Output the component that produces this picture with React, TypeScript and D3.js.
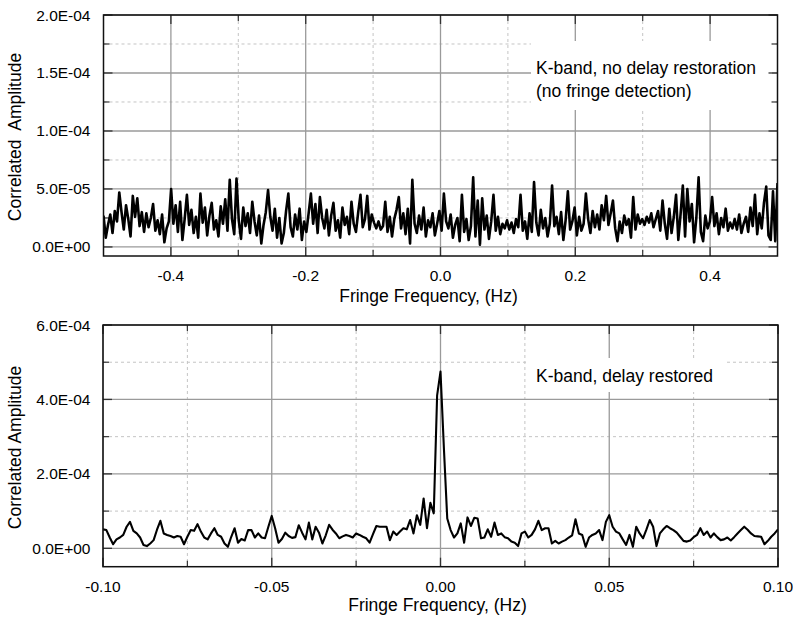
import React from 'react';
import * as d3 from 'd3';

// ---------- DATA ----------
// Top panel: K-band, no delay restoration. Fringe frequency -0.5..0.5 Hz, amplitude in units of 1e-5
const topFreqDomain = [-0.5, 0.5];
const topAmp = [
  2.7, 0.8, 1.9, 2.8, 1.2, 3.1, 2.2, 4.7, 3.0, 1.5, 3.6, 2.4, 0.9, 4.4, 2.6, 4.2, 1.8, 3.0, 1.3, 2.9,
  1.7, 2.5, 3.7, 1.4, 2.3, 1.1, 2.8, 0.4, 1.6, 2.2, 5.0, 2.0, 3.6, 1.3, 3.9, 0.6, 2.4, 4.5, 1.9, 3.2,
  1.2, 2.6, 0.8, 4.6, 2.1, 3.4, 1.0, 2.7, 3.8, 1.5, 2.3, 0.9, 3.5, 2.0, 4.1, 1.4, 5.8, 2.4, 1.1, 5.9,
  2.3, 0.7, 3.4, 1.8, 2.9, 1.2, 3.9, 2.2, 1.0, 2.7, 0.3, 1.9, 3.0, 4.9, 2.6, 1.4, 3.3, 0.8, 2.5, 0.3,
  1.2, 3.1, 4.6, 1.7, 0.9, 2.8, 1.5, 3.3, 0.6, 2.2, 1.3, 2.9, 4.6, 2.0, 3.7, 1.2, 4.3, 2.5, 1.6, 3.2,
  1.0, 2.7, 3.8, 1.4, 2.3, 0.8, 3.4, 1.9, 2.6, 1.1, 3.9, 2.0, 1.3, 3.0, 4.5, 1.7, 2.4, 4.4, 1.5, 2.8,
  2.1, 1.6, 2.2, 1.5, 1.8, 3.9, 1.3, 2.6, 0.9, 2.4, 3.2, 4.3, 1.6, 2.9, 1.1, 3.3, 0.3, 5.8, 2.0, 1.2,
  2.7, 1.5, 3.4, 0.9, 2.3, 1.7, 2.9, 1.0, 2.0, 3.1, 1.4, 4.6, 2.2, 1.6, 2.8, 0.8, 1.9, 2.5, 0.5, 4.5,
  1.3, 2.4, 0.6, 1.8, 6.0, 0.9, 4.0, 0.2, 4.2, 1.5, 2.7, 0.7, 2.2, 4.5, 1.4, 2.6, 1.1, 2.0, 1.6, 2.3,
  1.5, 2.1, 1.2, 2.4, 1.7, 4.5, 1.4, 2.2, 0.7, 2.9, 1.3, 5.6, 2.1, 1.0, 3.2, 1.6, 2.5, 0.9, 2.0, 5.3,
  1.8, 2.6, 1.1, 3.0, 0.6, 2.3, 4.8, 1.5, 2.2, 3.4, 1.0, 2.6, 1.4, 2.0, 4.6, 2.4, 1.2, 3.1, 1.7, 2.8,
  1.5, 3.6, 2.3, 4.4, 1.9, 2.9, 4.0, 1.6, 0.5, 2.2, 1.2, 2.7, 1.9, 2.4, 0.8, 4.3, 1.5, 2.8, 2.0, 2.4,
  1.9, 2.6, 2.1, 2.9, 1.7, 2.4, 3.1, 1.4, 4.0, 2.0, 0.7, 3.3, 1.2, 2.6, 4.5, 0.6, 2.8, 5.3, 0.9, 5.0,
  2.2, 3.7, 0.4, 2.5, 6.0, 1.3, 0.5, 2.7, 1.6, 2.2, 4.3, 1.8, 2.9, 1.1, 2.5, 1.7, 3.3, 1.4, 2.1, 1.6,
  2.4, 1.5, 2.8, 1.2, 2.0, 2.6, 1.3, 3.4, 1.8, 4.5, 1.1, 2.9, 1.6, 3.8, 5.2, 1.0, 0.6, 4.8, 0.5, 5.5,
];
const topUnit = 1e-5;

// Bottom panel: K-band, delay restored. Fringe frequency -0.1..0.1 Hz, amplitude in units of 1e-4
const bottomFreqDomain = [-0.1, 0.1];
const bottomAmp = [
  0.51, 0.49, 0.29, 0.11, 0.24, 0.29, 0.36, 0.58, 0.71, 0.47,
  0.40, 0.29, 0.09, 0.06, 0.13, 0.22, 0.50, 0.74, 0.40, 0.36,
  0.33, 0.29, 0.33, 0.31, 0.11, 0.31, 0.49, 0.47, 0.65, 0.45,
  0.29, 0.24, 0.40, 0.54, 0.36, 0.31, 0.13, 0.04, 0.31, 0.54,
  0.15, 0.25, 0.21, 0.49, 0.49, 0.29, 0.40, 0.29, 0.27, 0.58,
  0.87, 0.54, 0.15, 0.25, 0.42, 0.33, 0.28, 0.30, 0.62, 0.42,
  0.24, 0.69, 0.24, 0.58, 0.42, 0.13, 0.35, 0.63, 0.50, 0.40,
  0.27, 0.32, 0.36, 0.33, 0.29, 0.40, 0.36, 0.31, 0.27, 0.15,
  0.38, 0.60, 0.58, 0.58, 0.58, 0.22, 0.45, 0.36, 0.45, 0.54,
  0.51, 0.76, 0.40, 0.89, 0.63, 1.34, 0.54, 1.22, 0.94, 4.11,
  4.75, 2.70, 0.80, 0.49, 0.29, 0.40, 0.67, 0.15, 0.83, 0.60,
  0.82, 0.80, 0.27, 0.29, 0.51, 0.31, 0.69, 0.36, 0.40, 0.30,
  0.27, 0.18, 0.15, 0.06, 0.40, 0.45, 0.29, 0.36, 0.51, 0.74,
  0.49, 0.54, 0.54, 0.13, 0.20, 0.13, 0.18, 0.22, 0.29, 0.35,
  0.78, 0.40, 0.36, 0.04, 0.29, 0.36, 0.40, 0.49, 0.22, 0.71,
  0.89, 0.58, 0.45, 0.40, 0.24, 0.09, 0.36, 0.04, 0.58, 0.40,
  0.27, 0.50, 0.76, 0.58, 0.06, 0.40, 0.51, 0.60, 0.54, 0.49,
  0.42, 0.31, 0.20, 0.18, 0.21, 0.30, 0.36, 0.54, 0.36, 0.45,
  0.29, 0.40, 0.30, 0.22, 0.24, 0.29, 0.21, 0.30, 0.40, 0.49,
  0.58, 0.50, 0.40, 0.33, 0.32, 0.31, 0.11, 0.20, 0.31, 0.40, 0.51,
];
const bottomUnit = 1e-4;

const topXMajor = [-0.4, -0.2, 0.0, 0.2, 0.4];
const topXLabels = ['-0.4', '-0.2', '0.0', '0.2', '0.4'];
const topXMinor = [-0.3, -0.1, 0.1, 0.3];
const topYMajor = [0, 5e-5, 1e-4, 1.5e-4, 2e-4];
const topYLabels = ['0.0E+00', '5.0E-05', '1.0E-04', '1.5E-04', '2.0E-04'];
const topYMinor = [2.5e-5, 7.5e-5, 1.25e-4, 1.75e-4];
const topYDomain = [-7.8e-6, 2e-4];
const topNote = ['K-band, no delay restoration', '(no fringe detection)'];

const botXMajor = [-0.1, -0.05, 0.0, 0.05, 0.1];
const botXLabels = ['-0.10', '-0.05', '0.00', '0.05', '0.10'];
const botXMinor = [-0.075, -0.025, 0.025, 0.075];
const botYMajor = [0, 2e-4, 4e-4, 6e-4];
const botYLabels = ['0.0E+00', '2.0E-04', '4.0E-04', '6.0E-04'];
const botYMinor = [1e-4, 3e-4, 5e-4];
const botYDomain = [-4.94e-5, 6e-4];
const botNote = ['K-band, delay restored'];

const xTitle = 'Fringe Frequency, (Hz)';

const FONT = 'Liberation Sans, Arial, Helvetica, sans-serif';

type PanelProps = {
  id: string;
  left: number; right: number; top: number; bottom: number;
  xDomain: number[]; yDomain: number[];
  amp: number[]; unit: number;
  xMajor: number[]; xLabels: string[]; xMinor: number[];
  yMajor: number[]; yLabels: string[]; yMinor: number[];
  note: string[]; noteX: number; noteY: number; noteDy: number;
  box: { x0: number; x1: number; y0: number; y1: number };
  yTitle: string; yTitleX: number; yTitleY: number;
  xTitleX: number; xTitleY: number; xLabelY: number;
  lineWidth: number;
};

function Panel(p: PanelProps) {
  const x = d3.scaleLinear().domain(p.xDomain).range([p.left, p.right]);
  const y = d3.scaleLinear().domain(p.yDomain).range([p.bottom, p.top]);
  const n = p.amp.length;
  const freq = d3.scaleLinear().domain([0, n - 1]).range(p.xDomain);
  const line = d3.line<number>()
    .x((_, i) => x(freq(i)))
    .y((v) => y(v * p.unit));
  const majorGrid = '#9a9a9a';
  const minorGrid = '#c4c4c4';
  const tickCol = '#333';
  const majLen = 9, minLen = 6;
  return (
    <g>
      <defs>
        <clipPath id={`clip-${p.id}`}>
          <rect x={p.left} y={p.top} width={p.right - p.left} height={p.bottom - p.top} />
        </clipPath>
      </defs>
      {p.xMinor.map((v) => (
        <line key={`xm${v}`} x1={x(v)} x2={x(v)} y1={p.top} y2={p.bottom} stroke={minorGrid} strokeWidth={1} strokeDasharray="3,3" />
      ))}
      {p.yMinor.map((v) => (
        <line key={`ym${v}`} x1={p.left} x2={p.right} y1={y(v)} y2={y(v)} stroke={minorGrid} strokeWidth={1} strokeDasharray="3,3" />
      ))}
      {p.xMajor.map((v) => (
        <line key={`xM${v}`} x1={x(v)} x2={x(v)} y1={p.top} y2={p.bottom} stroke={majorGrid} strokeWidth={1.3} />
      ))}
      {p.yMajor.map((v) => (
        <line key={`yM${v}`} x1={p.left} x2={p.right} y1={y(v)} y2={y(v)} stroke={majorGrid} strokeWidth={1.3} />
      ))}
      <rect x={p.box.x0} y={p.box.y0} width={p.box.x1 - p.box.x0} height={p.box.y1 - p.box.y0} fill="#fff" />
      {p.note.map((t, i) => (
        <text key={t} x={p.noteX} y={p.noteY + i * p.noteDy} fontFamily={FONT} fontSize={17.5} fill="#000">{t}</text>
      ))}
      {p.xMajor.map((v) => (
        <g key={`xt${v}`}>
          <line x1={x(v)} x2={x(v)} y1={p.bottom} y2={p.bottom - majLen} stroke={tickCol} strokeWidth={1.3} />
          <line x1={x(v)} x2={x(v)} y1={p.top} y2={p.top + majLen} stroke={tickCol} strokeWidth={1.3} />
        </g>
      ))}
      {p.xMinor.map((v) => (
        <g key={`xtm${v}`}>
          <line x1={x(v)} x2={x(v)} y1={p.bottom} y2={p.bottom - minLen} stroke={tickCol} strokeWidth={1.2} />
          <line x1={x(v)} x2={x(v)} y1={p.top} y2={p.top + minLen} stroke={tickCol} strokeWidth={1.2} />
        </g>
      ))}
      {p.yMajor.map((v) => (
        <g key={`yt${v}`}>
          <line x1={p.left} x2={p.left + majLen} y1={y(v)} y2={y(v)} stroke={tickCol} strokeWidth={1.3} />
          <line x1={p.right} x2={p.right - majLen} y1={y(v)} y2={y(v)} stroke={tickCol} strokeWidth={1.3} />
        </g>
      ))}
      {p.yMinor.map((v) => (
        <g key={`ytm${v}`}>
          <line x1={p.left} x2={p.left + minLen} y1={y(v)} y2={y(v)} stroke={tickCol} strokeWidth={1.2} />
          <line x1={p.right} x2={p.right - minLen} y1={y(v)} y2={y(v)} stroke={tickCol} strokeWidth={1.2} />
        </g>
      ))}
      <path d={line(p.amp) || ''} fill="none" stroke="#000" strokeWidth={p.lineWidth} strokeLinejoin="round" clipPath={`url(#clip-${p.id})`} />
      <rect x={p.left} y={p.top} width={p.right - p.left} height={p.bottom - p.top} fill="none" stroke="#111" strokeWidth={1.5} />
      {p.xMajor.map((v, i) => (
        <text key={`xl${v}`} x={x(v)} y={p.xLabelY} textAnchor="middle" fontFamily={FONT} fontSize={15.5} fill="#000">{p.xLabels[i]}</text>
      ))}
      {p.yMajor.map((v, i) => (
        <text key={`yl${v}`} x={90.5} y={y(v) + 5.5} textAnchor="end" fontFamily={FONT} fontSize={15.5} fill="#000">{p.yLabels[i]}</text>
      ))}
      <text x={p.xTitleX} y={p.xTitleY} textAnchor="middle" fontFamily={FONT} fontSize={17.5} fill="#000">{xTitle}</text>
      <text transform={`translate(${p.yTitleX},${p.yTitleY}) rotate(-90)`} textAnchor="middle" fontFamily={FONT} fontSize={17.5} fill="#000" style={{ whiteSpace: 'pre' }}>{p.yTitle}</text>
    </g>
  );
}

export default function App() {
  return (
    <svg width={793} height={621} viewBox="0 0 793 621" style={{ position: 'absolute', left: 0, top: 0, background: '#fff' }}>
      <rect x={0} y={0} width={793} height={621} fill="#fff" />
      <Panel
        id="top"
        left={103.5} right={777.5} top={15} bottom={256}
        xDomain={topFreqDomain} yDomain={topYDomain}
        amp={topAmp} unit={topUnit}
        xMajor={topXMajor} xLabels={topXLabels} xMinor={topXMinor}
        yMajor={topYMajor} yLabels={topYLabels} yMinor={topYMinor}
        note={topNote} noteX={536} noteY={73.5} noteDy={23.5}
        box={{ x0: 531, x1: 772, y0: 41, y1: 110 }}
        yTitle={'Correlated  Amplitude'} yTitleX={21} yTitleY={137}
        xTitleX={428.5} xTitleY={302} xLabelY={281}
        lineWidth={2.6}
      />
      <Panel
        id="bot"
        left={103} right={778} top={325} bottom={566.7}
        xDomain={bottomFreqDomain} yDomain={botYDomain}
        amp={bottomAmp} unit={bottomUnit}
        xMajor={botXMajor} xLabels={botXLabels} xMinor={botXMinor}
        yMajor={botYMajor} yLabels={botYLabels} yMinor={botYMinor}
        note={botNote} noteX={536} noteY={382} noteDy={23.5}
        box={{ x0: 527, x1: 727, y0: 358, y1: 392 }}
        yTitle={'Correlated Amplitude'} yTitleX={21} yTitleY={447.5}
        xTitleX={437.5} xTitleY={611} xLabelY={591.5}
        lineWidth={2.1}
      />
    </svg>
  );
}
